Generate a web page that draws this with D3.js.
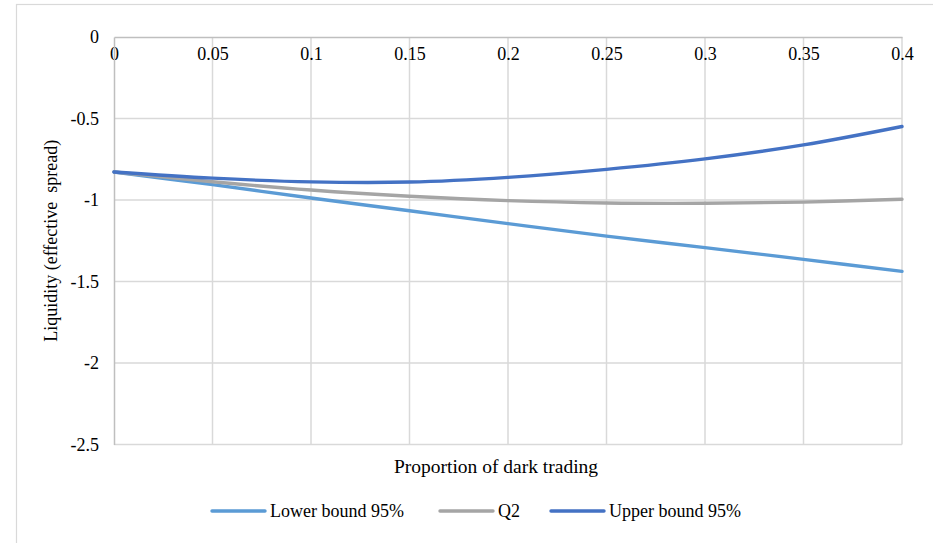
<!DOCTYPE html>
<html>
<head>
<meta charset="utf-8">
<script src="https://cdn.jsdelivr.net/npm/d3@7"></script>
<style>
  body { margin: 0; background: #fff; }
  svg { display: block; font-family: "Liberation Serif", "Times New Roman", serif; }
</style>
</head>
<body>
<svg id="chart"></svg>
<script>
// data
const proportion = [0, 0.05, 0.1, 0.15, 0.2, 0.25, 0.3, 0.35, 0.4];
const lowerBound = [-0.828, -0.906, -0.988, -1.066, -1.145, -1.222, -1.292, -1.364, -1.438];
const q2 = [-0.828, -0.888, -0.939, -0.977, -1.004, -1.018, -1.020, -1.013, -0.995];
const upperBound = [-0.828, -0.866, -0.889, -0.890, -0.861, -0.812, -0.748, -0.662, -0.549];
const xTicks = [0, 0.05, 0.1, 0.15, 0.2, 0.25, 0.3, 0.35, 0.4];
const yTicks = [0, -0.5, -1, -1.5, -2, -2.5];
const seriesNames = ["Lower bound 95%", "Q2", "Upper bound 95%"];
const seriesColors = ["#5B9BD5", "#A5A5A5", "#4472C4"];

const width = 933, height = 543;
const svg = d3.select("#chart").attr("width", width).attr("height", height);

// chart frame
svg.append("rect")
    .attr("x", 16.5).attr("y", 4.5)
    .attr("width", width + 20).attr("height", height + 20)
    .attr("fill", "none").attr("stroke", "#D9D9D9").attr("stroke-width", 1.2);

const x = d3.scaleLinear().domain([0, 0.4]).range([114, 902]);
const y = d3.scaleLinear().domain([-2.5, 0]).range([444.5, 37]);

// grid
svg.append("g")
    .selectAll("line")
    .data(xTicks.slice(1))
    .enter()
    .append("line")
    .attr("x1", d => x(d)).attr("x2", d => x(d))
    .attr("y1", y(0)).attr("y2", y(-2.5))
    .attr("stroke", "#D9D9D9").attr("stroke-width", 1.5);

svg.append("g")
    .selectAll("line")
    .data(yTicks.slice(1))
    .enter()
    .append("line")
    .attr("x1", x(0)).attr("x2", x(0.4))
    .attr("y1", d => y(d)).attr("y2", d => y(d))
    .attr("stroke", "#D9D9D9").attr("stroke-width", 1.5);

// axes (plain hyphen for negatives, like the reference)
const fmt = d => String(d);

const xAxis = svg.append("g")
    .attr("transform", `translate(0,${y(0)})`)
    .call(d3.axisBottom(x).tickValues(xTicks).tickSize(0).tickPadding(10).tickFormat(fmt));
xAxis.select(".domain").attr("stroke", "#BFBFBF").attr("stroke-width", 1.5);
xAxis.selectAll("text").attr("font-size", 18).attr("font-family", "Liberation Serif").attr("fill", "#000");

const yAxis = svg.append("g")
    .attr("transform", `translate(${x(0)},0)`)
    .call(d3.axisLeft(y).tickValues(yTicks).tickSize(0).tickPadding(15).tickFormat(fmt));
yAxis.select(".domain").attr("stroke", "#BFBFBF").attr("stroke-width", 1.5);
yAxis.selectAll("text").attr("font-size", 18).attr("font-family", "Liberation Serif").attr("fill", "#000");

// series
const series = [lowerBound, q2, upperBound];
const line = d3.line()
    .x((d, i) => x(proportion[i]))
    .y(d => y(d))
    .curve(d3.curveCatmullRom);

svg.append("g")
    .selectAll("path")
    .data(series)
    .enter()
    .append("path")
    .attr("d", line)
    .attr("fill", "none")
    .attr("stroke", (d, i) => seriesColors[i])
    .attr("stroke-width", 3.4)
    .attr("stroke-linecap", "round");

// axis titles
svg.append("text")
    .attr("x", 496).attr("y", 473)
    .attr("text-anchor", "middle").attr("font-size", 19.5)
    .text("Proportion of dark trading");

svg.append("text")
    .attr("transform", `translate(57,${(y(0) + y(-2.5)) / 2}) rotate(-90)`)
    .attr("text-anchor", "middle").attr("font-size", 18)
    .style("white-space", "pre")
    .text("Liquidity (effective  spread)");

// legend
const legendX = [212, 440, 551];
const legend = svg.append("g")
    .selectAll("g")
    .data(seriesNames)
    .enter()
    .append("g")
    .attr("transform", (d, i) => `translate(${legendX[i]},511)`);

legend.append("line")
    .attr("x1", 0).attr("x2", 53)
    .attr("stroke", (d, i) => seriesColors[i])
    .attr("stroke-width", 3.4).attr("stroke-linecap", "round");

legend.append("text")
    .attr("x", 58).attr("y", 6)
    .attr("font-size", 18)
    .text(d => d);
</script>
</body>
</html>
